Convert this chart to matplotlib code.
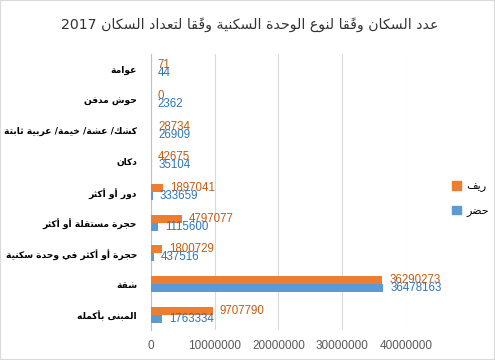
import numpy as np
import matplotlib
matplotlib.use("Agg")
import matplotlib.pyplot as plt
from matplotlib.patches import Patch, Rectangle

title = "عدد السكان وفقًا لنوع الوحدة السكنية وفقًا لتعداد السكان 2017"
categories = [
    "عوامة",
    "حوش مدفن",
    "كشك/ عشة/ خيمة/ عربية ثابتة",
    "دكان",
    "دور أو أكثر",
    "حجرة مستقلة أو أكثر",
    "حجرة أو أكثر في وحدة سكنية",
    "شقة",
    "المبنى بأكمله",
]
series_names = ["ريف", "حضر"]
rural = [71, 0, 28734, 42675, 1897041, 4797077, 1800729, 36290273, 9707790]
urban = [44, 2362, 26909, 35104, 333659, 1115600, 437516, 36478163, 1763334]
xticks = [0, 10000000, 20000000, 30000000, 40000000]

ORANGE = "#ED7D31"
BLUE = "#5B9BD5"
ORANGE_TXT = "#C55A11"
BLUE_TXT = "#2E75B6"
GRAY = "#595959"

# matplotlib 3.10 has no Arabic shaping/bidi, so do a small one here
FORMS = {
    'ء': (0xFE80, 1), 'آ': (0xFE81, 2), 'أ': (0xFE83, 2), 'ؤ': (0xFE85, 2),
    'إ': (0xFE87, 2), 'ئ': (0xFE89, 4), 'ا': (0xFE8D, 2), 'ب': (0xFE8F, 4),
    'ة': (0xFE93, 2), 'ت': (0xFE95, 4), 'ث': (0xFE99, 4), 'ج': (0xFE9D, 4),
    'ح': (0xFEA1, 4), 'خ': (0xFEA5, 4), 'د': (0xFEA9, 2), 'ذ': (0xFEAB, 2),
    'ر': (0xFEAD, 2), 'ز': (0xFEAF, 2), 'س': (0xFEB1, 4), 'ش': (0xFEB5, 4),
    'ص': (0xFEB9, 4), 'ض': (0xFEBD, 4), 'ط': (0xFEC1, 4), 'ظ': (0xFEC5, 4),
    'ع': (0xFEC9, 4), 'غ': (0xFECD, 4), 'ف': (0xFED1, 4), 'ق': (0xFED5, 4),
    'ك': (0xFED9, 4), 'ل': (0xFEDD, 4), 'م': (0xFEE1, 4), 'ن': (0xFEE5, 4),
    'ه': (0xFEE9, 4), 'و': (0xFEED, 2), 'ى': (0xFEEF, 2), 'ي': (0xFEF1, 4),
}
LAM_ALEF = {'آ': 0xFEF5, 'أ': 0xFEF7, 'إ': 0xFEF9, 'ا': 0xFEFB}
MARKS = set(chr(c) for c in range(0x064B, 0x0653))


def ar(text):
    chars = list(text)

    def neighbour(i, step):
        j = i + step
        while 0 <= j < len(chars) and chars[j] in MARKS:
            j += step
        return j if 0 <= j < len(chars) else None

    clusters = []
    i = 0
    while i < len(chars):
        c = chars[i]
        if c in MARKS:
            if clusters:
                clusters[-1] += c
            i += 1
            continue
        if c in FORMS:
            p = neighbour(i, -1)
            n = neighbour(i, 1)
            jp = p is not None and chars[p] in FORMS and FORMS[chars[p]][1] == 4
            jn = n is not None and chars[n] in FORMS and FORMS[chars[n]][1] >= 2
            base, kind = FORMS[c]
            if c == 'ل' and n is not None and chars[n] in LAM_ALEF:
                clusters.append(chr(LAM_ALEF[chars[n]] + (1 if jp else 0)))
                i = n + 1
                continue
            if kind == 4:
                off = 3 if (jp and jn) else 1 if jp else 2 if jn else 0
            elif kind == 2:
                off = 1 if jp else 0
            else:
                off = 0
            clusters.append(chr(base + off))
        else:
            clusters.append(c)
        i += 1

    # visual order: reverse, keeping runs of digits/latin left to right
    runs = []
    for cl in clusters:
        ltr = cl[0].isascii() and cl[0].isalnum()
        if runs and runs[-1][0] == ltr:
            runs[-1][1].append(cl)
        else:
            runs.append((ltr, [cl]))
    out = []
    for ltr, cl in reversed(runs):
        out.extend(cl if ltr else reversed(cl))
    return "".join(out)


fig = plt.figure(figsize=(4.95, 3.6), dpi=100)
ax = fig.add_axes([0.305, 0.083, 0.515, 0.767])

y = np.arange(len(categories))
h = 0.26
ax.barh(y - h / 2, rural, h, color=ORANGE, zorder=3)
ax.barh(y + h / 2, urban, h, color=BLUE, zorder=3)

num_font = ["Liberation Sans", "DejaVu Sans"]
for yi, v in zip(y, rural):
    ax.annotate(str(v), (v, yi - h / 2), xytext=(5, 0), textcoords="offset points",
                ha="left", va="center", fontsize=8.3, color=ORANGE_TXT, family=num_font)
for yi, v in zip(y, urban):
    ax.annotate(str(v), (v, yi + h / 2), xytext=(5, 0), textcoords="offset points",
                ha="left", va="center", fontsize=8.3, color=BLUE_TXT, family=num_font)

ax.set_xlim(0, 40000000)
ax.set_ylim(len(categories) - 0.5, -0.5)
ax.set_xticks(xticks)
ax.set_xticklabels([str(t) for t in xticks], family=num_font, fontsize=8.5, color=GRAY)
ax.set_yticks(y)
ax.set_yticklabels([ar(c) for c in categories], fontsize=6.6, fontweight="bold",
                   color="black", family="DejaVu Sans")
ax.tick_params(axis="both", length=0)
ax.tick_params(axis="x", pad=7)
ax.tick_params(axis="y", pad=10)

ax.grid(axis="x", color="#D9D9D9", linewidth=0.8, zorder=0)
for s in ["top", "right", "bottom"]:
    ax.spines[s].set_visible(False)
ax.spines["left"].set_color("#BFBFBF")
ax.spines["left"].set_linewidth(0.8)

fig.text(0.505, 1 - 25 / 360, ar(title), ha="center", va="center",
         fontsize=10.2, color="#333333", family="DejaVu Sans")

handles = [Patch(color=ORANGE), Patch(color=BLUE)]
fig.legend(handles, [ar(s) for s in series_names], loc="center left",
           bbox_to_anchor=(452 / 495, 1 - 199 / 360), frameon=False,
           borderpad=0, borderaxespad=0,
           handlelength=0.8, handleheight=0.8, handletextpad=0.5,
           labelspacing=1.2, prop={"family": "DejaVu Sans", "size": 8})

fig.add_artist(Rectangle((0, 0), 1, 1, transform=fig.transFigure, fill=False,
                         edgecolor="#D9D9D9", linewidth=1.5))

fig.savefig("out.png", dpi=100, facecolor="white")
